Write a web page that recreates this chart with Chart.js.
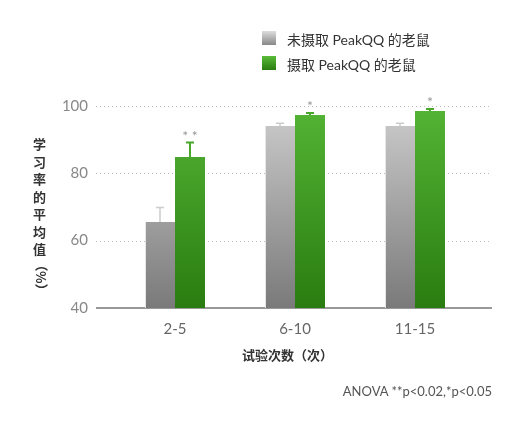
<!DOCTYPE html><html><head><meta charset="utf-8">
<script src="https://cdn.jsdelivr.net/npm/chart.js@4"></script>
<style>body{margin:0;background:#fff;font-family:Lato,"Noto Sans CJK SC",sans-serif}
#w{position:relative;width:523px;height:427px}
.t{position:absolute;color:#333;font-size:14px;white-space:nowrap}
.b{position:absolute;width:14px;height:14px}
</style></head><body><div id="w"><canvas id="c" width="523" height="427"></canvas>
<div class="b" style="left:262px;top:31px;background:linear-gradient(#ddd,#888)"></div>
<div class="t" style="left:287px;top:29px">未摄取 PeakQQ 的老鼠</div>
<div class="b" style="left:262px;top:56px;background:linear-gradient(#5abb3a,#2b7d12)"></div>
<div class="t" style="left:287px;top:54px">摄取 PeakQQ 的老鼠</div>
<div class="t" style="left:33px;top:135px;width:14px;white-space:normal;line-height:17.5px;font-weight:bold;font-size:13px;font-family:'Noto Sans CJK SC'">学习率的平均值</div>
<div class="t" style="left:33px;top:258px;width:14px;font-size:13px;line-height:12px;font-family:'Noto Sans CJK SC';font-weight:bold;writing-mode:vertical-rl">（%）</div>
<div class="t" style="left:242px;top:345px;font-weight:bold;font-size:13px;font-family:'Noto Sans CJK SC'">试验次数（次）</div>
<div class="t" style="right:31px;top:383px;font-size:13px;color:#555">ANOVA **p&lt;0.02,*p&lt;0.05</div>
</div>
<script>
const categories=['2-5','6-10','11-15'];
const without=[65.5,94.0,94.0];
const withQQ=[84.8,97.3,98.5];
const errWithout=[4.3,0.8,0.8];
const errWith=[4.3,0.6,0.6];
const marks=['**','*','*'];
const yTicks=[40,60,80,100];
function grad(ctx,a,b){const c=ctx.chart,ca=c.chartArea;if(!ca)return a;const g=c.ctx.createLinearGradient(0,ca.top,0,ca.bottom);g.addColorStop(0,a);g.addColorStop(1,b);return g;}
const extra={id:'extra',beforeDatasetsDraw(ch){const x=ch.ctx,y=ch.scales.y;x.save();x.strokeStyle='#bbb';x.setLineDash([1,3]);x.lineWidth=1;
[60,80,100].forEach(v=>{const p=Math.round(y.getPixelForValue(v))+.5;x.beginPath();x.moveTo(96,p);x.lineTo(492,p);x.stroke();});
x.setLineDash([]);x.strokeStyle='#999';x.lineWidth=2;const p=y.getPixelForValue(40);x.beginPath();x.moveTo(96,p);x.lineTo(492,p);x.stroke();x.restore();},
afterDatasetsDraw(ch){const x=ch.ctx,y=ch.scales.y;x.save();[[0,errWithout,'#ccc'],[1,errWith,'#48a82c']].forEach(([i,e,col])=>{ch.getDatasetMeta(i).data.forEach((b,j)=>{const v=ch.data.datasets[i].data[j];const t=y.getPixelForValue(v+e[j]);x.strokeStyle=col;x.lineWidth=i?2:1.5;x.beginPath();x.moveTo(b.x,b.y);x.lineTo(b.x,t);x.moveTo(b.x-4,t);x.lineTo(b.x+4,t);x.stroke();
if(i==1){x.fillStyle='#999';x.font='14px Lato';x.textAlign='center';x.fillText(marks[j].split('').join(' '),b.x,t-2);}});});x.restore();}};
new Chart(document.getElementById('c'),{type:'bar',data:{labels:categories,datasets:[
{data:without,backgroundColor:c=>grad(c,'#d4d4d4','#7a7a7a'),borderColor:'#e6e6e6',borderWidth:{left:1,right:0,top:0,bottom:0}},
{data:withQQ,backgroundColor:c=>grad(c,'#57b938','#2a7c10')}]},
plugins:[extra],
options:{responsive:false,animation:false,categoryPercentage:.5,barPercentage:1,layout:{padding:{top:89,right:48,left:0,bottom:0}},
plugins:{legend:{display:false},tooltip:{enabled:false}},
scales:{x:{grid:{display:false,drawTicks:false},border:{display:false},afterFit:s=>{s.height=119},ticks:{color:'#666',padding:12,font:{family:'Lato',size:15}}},
y:{min:40,max:105,afterFit:s=>{s.width=115},afterBuildTicks:s=>{s.ticks=yTicks.map(v=>({value:v}))},grid:{display:false,drawTicks:false},border:{display:false},ticks:{color:'#888',padding:27,font:{family:'Lato',size:15}}}}}});
</script></body></html>
